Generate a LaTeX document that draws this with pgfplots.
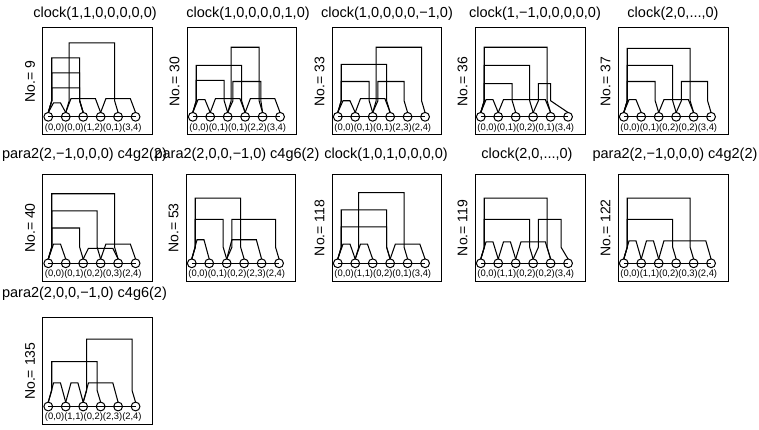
\documentclass[border=0pt]{standalone}
\usepackage{pgfplots}
\pgfplotsset{compat=1.18}
\usepackage{fontspec}
\setmainfont{Liberation Sans}
\tikzset{lnk/.style={black, line width=1.05pt, mark=none},
         nds/.style={black, line width=1pt, mark=o, mark size=4.4pt, mark options={line width=1pt, fill=none}},
         nlab/.style={anchor=base west, inner sep=0pt, font=\fontsize{9.4}{10}\selectfont}}
\pgfplotsset{
 panel/.style={anchor=south west, width=110pt, height=107pt, scale only axis,
   xmin=0.67, xmax=6.97, ymin=0, ymax=10, xtick=\empty, ytick=\empty, clip=false,
   axis line style={line width=1pt},
   title style={font=\fontsize{14.5}{16}\selectfont, anchor=base, at={(axis description cs:0.5,1)}},
   every axis y label/.style={at={(axis description cs:0,0.5)}, xshift=-12.5pt, rotate=90, anchor=center, font=\fontsize{14}{16}\selectfont}},
}
\begin{document}
\begin{tikzpicture}
\useasboundingbox (0,0) rectangle (759pt,430pt);

% ---------------- Row 1 ----------------
\begin{axis}[panel, at={(42.5pt,295pt)}, title={clock(1,1,0,0,0,0,0)}, title style={yshift=4pt, xshift=-2.5pt}, ylabel={No.= 9}]
\addplot[lnk] coordinates {(2,2.1) (2.2,3.2) (2.2,8.6) (4.8,8.6) (4.8,3.2) (5,2.1)};
\addplot[lnk] coordinates {(1,2.1) (1.2,3.2) (1.2,7.2) (2.8,7.2) (2.8,3.2) (3,2.1)};
\addplot[lnk] coordinates {(1,2.1) (1.2,3.2) (1.2,5.8) (2.8,5.8) (2.8,3.2) (3,2.1)};
\addplot[lnk] coordinates {(1,2.1) (1.2,3.2) (1.2,4.4) (2.8,4.4) (2.8,3.2) (3,2.1)};
\addplot[lnk] coordinates {(1,2.1) (1.3,3.0) (1.7,3.0) (2,2.1)};
\addplot[lnk] coordinates {(2,2.1) (2.3,3.4) (3.7,3.4) (4,2.1)};
\addplot[lnk] coordinates {(4,2.1) (4.3,3.4) (5.7,3.4) (6,2.1)};
\addplot[nds] coordinates {(1,1.7) (2,1.7) (3,1.7) (4,1.7) (5,1.7) (6,1.7)};
\node[nlab] at (axis cs:0.8,0.45) {(0,0)(0,0)(1,2)(0,1)(3,4)};
\end{axis}

\begin{axis}[panel, at={(187pt,295pt)}, title={clock(1,0,0,0,0,1,0)}, title style={yshift=4pt, xshift=6pt}, ylabel={No.= 30}]
\addplot[lnk] coordinates {(3,2.1) (3.2,3.2) (3.2,8.2) (4.8,8.2) (4.8,3.2) (5,2.1)};
\addplot[lnk] coordinates {(1,2.1) (1.2,3.2) (1.2,6.5) (3.8,6.5) (3.8,3.2) (4,2.1)};
\addplot[lnk] coordinates {(1,2.1) (1.2,3.2) (1.2,5.1) (2.8,5.1) (2.8,3.2) (3,2.1)};
\addplot[lnk] coordinates {(3,2.1) (3.3,3.2) (3.3,5.0) (4.9,5.0) (4.9,3.2) (5,2.1)};
\addplot[lnk] coordinates {(1,2.1) (1.3,3.3) (1.7,3.3) (2,2.1)};
\addplot[lnk] coordinates {(2,2.1) (2.3,3.4) (3.7,3.4) (4,2.1)};
\addplot[lnk] coordinates {(4,2.1) (4.3,3.4) (5.7,3.4) (6,2.1)};
\addplot[nds] coordinates {(1,1.7) (2,1.7) (3,1.7) (4,1.7) (5,1.7) (6,1.7)};
\node[nlab] at (axis cs:0.8,0.45) {(0,0)(0,1)(0,1)(2,2)(3,4)};
\end{axis}

\begin{axis}[panel, at={(332pt,295pt)}, title={clock(1,0,0,0,0,−1,0)}, title style={yshift=4pt}, ylabel={No.= 33}]
\addplot[lnk] coordinates {(3,2.1) (3.2,3.2) (3.2,8.2) (5.8,8.2) (5.8,3.2) (6,2.1)};
\addplot[lnk] coordinates {(1,2.1) (1.2,3.2) (1.2,6.6) (3.8,6.6) (3.8,3.2) (4,2.1)};
\addplot[lnk] coordinates {(1,2.1) (1.2,3.2) (1.2,5.0) (2.8,5.0) (2.8,3.2) (3,2.1)};
\addplot[lnk] coordinates {(3,2.1) (3.3,3.2) (3.3,5.0) (4.8,5.0) (4.8,3.2) (5,2.1)};
\addplot[lnk] coordinates {(1,2.1) (1.3,3.2) (1.7,3.2) (2,2.1)};
\addplot[lnk] coordinates {(2,2.1) (2.3,3.4) (3.7,3.4) (4,2.1)};
\addplot[nds] coordinates {(1,1.7) (2,1.7) (3,1.7) (4,1.7) (5,1.7) (6,1.7)};
\node[nlab] at (axis cs:0.8,0.45) {(0,0)(0,1)(0,1)(2,3)(2,4)};
\end{axis}

\begin{axis}[panel, at={(475pt,295pt)}, title={clock(1,−1,0,0,0,0,0)}, title style={yshift=4pt, xshift=5pt}, ylabel={No.= 36}]
\addplot[lnk] coordinates {(1,2.1) (1.2,3.2) (1.2,8.2) (4.8,8.2) (4.8,3.2) (5,2.1)};
\addplot[lnk] coordinates {(1,2.1) (1.2,3.2) (1.2,6.5) (3.8,6.5) (3.8,3.2) (4,2.1)};
\addplot[lnk] coordinates {(1,2.1) (1.2,3.2) (1.2,4.8) (2.8,4.8) (2.8,3.2) (3,2.1)};
\addplot[lnk] coordinates {(4,2.1) (4.3,3.2) (4.3,4.8) (5.0,4.8) (5.0,3.2) (6,2.1)};
\addplot[lnk] coordinates {(1,2.1) (1.3,3.3) (1.7,3.3) (2,2.1)};
\addplot[lnk] coordinates {(2,2.1) (2.3,3.3) (4.7,3.3) (5,2.1)};
\addplot[nds] coordinates {(1,1.7) (2,1.7) (3,1.7) (4,1.7) (5,1.7) (6,1.7)};
\node[nlab] at (axis cs:0.8,0.45) {(0,0)(0,1)(0,2)(0,1)(3,4)};
\end{axis}

\begin{axis}[panel, at={(618pt,295pt)}, title={clock(2,0,...,0)}, title style={yshift=4pt}, ylabel={No.= 37}]
\addplot[lnk] coordinates {(1,2.1) (1.2,3.2) (1.2,8.1) (4.8,8.1) (4.8,3.2) (5,2.1)};
\addplot[lnk] coordinates {(1,2.1) (1.2,3.2) (1.2,6.5) (3.8,6.5) (3.8,3.2) (4,2.1)};
\addplot[lnk] coordinates {(1,2.1) (1.2,3.2) (1.2,5.0) (2.8,5.0) (2.8,3.2) (3,2.1)};
\addplot[lnk] coordinates {(4,2.1) (4.3,3.2) (4.3,5.0) (5.8,5.0) (5.8,3.2) (6,2.1)};
\addplot[lnk] coordinates {(1,2.1) (1.3,3.3) (1.7,3.3) (2,2.1)};
\addplot[lnk] coordinates {(3,2.1) (3.3,3.3) (4.7,3.3) (5,2.1)};
\addplot[nds] coordinates {(1,1.7) (2,1.7) (3,1.7) (4,1.7) (5,1.7) (6,1.7)};
\node[nlab] at (axis cs:0.8,0.45) {(0,0)(0,1)(0,2)(0,2)(3,4)};
\end{axis}

% ---------------- Row 2 ----------------
\begin{axis}[panel, at={(42.5pt,148.5pt)}, title={para2(2,−1,0,0,0) c4g2(2)}, title style={yshift=9.5pt, xshift=-13pt}, ylabel={No.= 40}]
\addplot[lnk] coordinates {(1,2.1) (1.2,3.2) (1.2,8.2) (4.8,8.2) (4.8,3.2) (5,2.1)};
\addplot[lnk] coordinates {(1,2.1) (1.2,3.2) (1.2,6.6) (3.8,6.6) (3.8,3.2) (4,2.1)};
\addplot[lnk] coordinates {(1,2.1) (1.2,3.2) (1.2,5.0) (2.8,5.0) (2.8,3.2) (3,2.1)};
\addplot[lnk] coordinates {(1,2.1) (1.3,3.5) (1.7,3.5) (2,2.1)};
\addplot[lnk] coordinates {(3,2.1) (3.3,3.1) (4.7,3.1) (5,2.1)};
\addplot[lnk] coordinates {(4,2.1) (4.3,3.5) (5.7,3.5) (6,2.1)};
\addplot[nds] coordinates {(1,1.7) (2,1.7) (3,1.7) (4,1.7) (5,1.7) (6,1.7)};
\node[nlab] at (axis cs:0.8,0.45) {(0,0)(0,1)(0,2)(0,3)(2,4)};
\end{axis}

\begin{axis}[panel, at={(186pt,148.5pt)}, title={para2(2,0,0,−1,0) c4g6(2)}, title style={yshift=9.5pt, xshift=-4pt}, ylabel={No.= 53}]
\addplot[lnk] coordinates {(1,2.1) (1.2,3.2) (1.2,7.8) (3.8,7.8) (3.8,3.2) (4,2.1)};
\addplot[lnk] coordinates {(1,2.1) (1.2,3.2) (1.2,5.8) (2.8,5.8) (2.8,3.2) (3,2.1)};
\addplot[lnk] coordinates {(3,2.1) (3.3,3.2) (3.3,5.8) (5.8,5.8) (5.8,3.2) (6,2.1)};
\addplot[lnk] coordinates {(1,2.1) (1.3,3.9) (1.7,3.9) (2,2.1)};
\addplot[lnk] coordinates {(3,2.1) (3.3,3.9) (4.7,3.9) (5,2.1)};
\addplot[nds] coordinates {(1,1.7) (2,1.7) (3,1.7) (4,1.7) (5,1.7) (6,1.7)};
\node[nlab] at (axis cs:0.8,0.45) {(0,0)(0,1)(0,2)(2,3)(2,4)};
\end{axis}

\begin{axis}[panel, at={(332pt,148.5pt)}, title={clock(1,0,1,0,0,0,0)}, title style={yshift=9.5pt, xshift=-1pt}, ylabel={No.= 118}]
\addplot[lnk] coordinates {(2,2.1) (2.2,3.2) (2.2,8.3) (4.8,8.3) (4.8,3.2) (5,2.1)};
\addplot[lnk] coordinates {(1,2.1) (1.2,3.2) (1.2,6.7) (3.8,6.7) (3.8,3.2) (4,2.1)};
\addplot[lnk] coordinates {(1,2.1) (1.2,3.2) (1.2,5.1) (3.8,5.1) (3.8,3.2) (4,2.1)};
\addplot[lnk] coordinates {(1,2.1) (1.3,3.5) (1.7,3.5) (2,2.1)};
\addplot[lnk] coordinates {(2,2.1) (2.3,3.5) (2.7,3.5) (3,2.1)};
\addplot[lnk] coordinates {(4,2.1) (4.3,3.5) (5.7,3.5) (6,2.1)};
\addplot[nds] coordinates {(1,1.7) (2,1.7) (3,1.7) (4,1.7) (5,1.7) (6,1.7)};
\node[nlab] at (axis cs:0.8,0.45) {(0,0)(1,1)(0,2)(0,1)(3,4)};
\end{axis}

\begin{axis}[panel, at={(475pt,148.5pt)}, title={clock(2,0,...,0)}, title style={yshift=9.5pt, xshift=-3pt}, ylabel={No.= 119}]
\addplot[lnk] coordinates {(1,2.1) (1.2,3.2) (1.2,7.8) (4.8,7.8) (4.8,3.2) (5,2.1)};
\addplot[lnk] coordinates {(1,2.1) (1.2,3.2) (1.2,5.8) (3.8,5.8) (3.8,3.2) (4,2.1)};
\addplot[lnk] coordinates {(4,2.1) (4.3,3.2) (4.3,5.8) (5.6,5.8) (5.6,3.2) (6,2.1)};
\addplot[lnk] coordinates {(1,2.1) (1.3,3.7) (1.7,3.7) (2,2.1)};
\addplot[lnk] coordinates {(2,2.1) (2.3,3.7) (2.7,3.7) (3,2.1)};
\addplot[lnk] coordinates {(3,2.1) (3.3,3.7) (4.7,3.7) (5,2.1)};
\addplot[nds] coordinates {(1,1.7) (2,1.7) (3,1.7) (4,1.7) (5,1.7) (6,1.7)};
\node[nlab] at (axis cs:0.8,0.45) {(0,0)(1,1)(0,2)(0,2)(3,4)};
\end{axis}

\begin{axis}[panel, at={(618pt,148.5pt)}, title={para2(2,−1,0,0,0) c4g2(2)}, title style={yshift=9.5pt, xshift=2pt}, ylabel={No.= 122}]
\addplot[lnk] coordinates {(1,2.1) (1.2,3.2) (1.2,7.8) (4.8,7.8) (4.8,3.2) (5,2.1)};
\addplot[lnk] coordinates {(1,2.1) (1.2,3.2) (1.2,5.8) (3.8,5.8) (3.8,3.2) (4,2.1)};
\addplot[lnk] coordinates {(1,2.1) (1.3,3.8) (1.7,3.8) (2,2.1)};
\addplot[lnk] coordinates {(2,2.1) (2.3,3.8) (2.7,3.8) (3,2.1)};
\addplot[lnk] coordinates {(3,2.1) (3.3,3.8) (5.7,3.8) (6,2.1)};
\addplot[nds] coordinates {(1,1.7) (2,1.7) (3,1.7) (4,1.7) (5,1.7) (6,1.7)};
\node[nlab] at (axis cs:0.8,0.45) {(0,0)(1,1)(0,2)(0,3)(2,4)};
\end{axis}

% ---------------- Row 3 ----------------
\begin{axis}[panel, at={(42.5pt,5.3pt)}, title={para2(2,0,0,−1,0) c4g6(2)}, title style={yshift=13.7pt, xshift=-13pt}, ylabel={No.= 135}]
\addplot[lnk] coordinates {(3,2.1) (3.2,3.2) (3.2,8.0) (5.8,8.0) (5.8,3.2) (6,2.1)};
\addplot[lnk] coordinates {(1,2.1) (1.2,3.2) (1.2,5.9) (3.8,5.9) (3.8,3.2) (4,2.1)};
\addplot[lnk] coordinates {(1,2.1) (1.3,3.9) (1.7,3.9) (2,2.1)};
\addplot[lnk] coordinates {(2,2.1) (2.3,3.9) (2.7,3.9) (3,2.1)};
\addplot[lnk] coordinates {(3,2.1) (3.3,3.9) (4.7,3.9) (5,2.1)};
\addplot[nds] coordinates {(1,1.7) (2,1.7) (3,1.7) (4,1.7) (5,1.7) (6,1.7)};
\node[nlab] at (axis cs:0.8,0.45) {(0,0)(1,1)(0,2)(2,3)(2,4)};
\end{axis}
\end{tikzpicture}
\end{document}
